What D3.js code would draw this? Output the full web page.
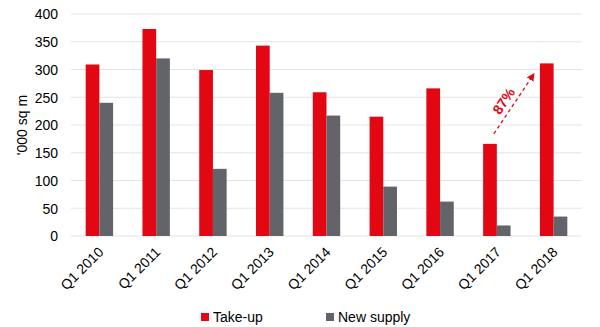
<!DOCTYPE html>
<html><head><meta charset="utf-8">
<script src="https://cdn.jsdelivr.net/npm/d3@7"></script>
<style>body{margin:0;background:#fff}svg{display:block}text{font-family:"Liberation Sans",Arial,sans-serif}</style>
</head><body>
<script>
const categories = ["Q1 2010","Q1 2011","Q1 2012","Q1 2013","Q1 2014","Q1 2015","Q1 2016","Q1 2017","Q1 2018"];
const takeUp = [309, 373, 299, 343, 259, 215, 266, 166, 311];
const newSupply = [240, 320, 121, 258, 217, 89, 62, 19, 35];
const seriesNames = ["Take-up","New supply"];
const yTicks = [0,50,100,150,200,250,300,350,400];
const annotation = {from:"Q1 2017", to:"Q1 2018", label:"87%"};

const W=600,H=327;
const colors=["#e30613","#636469"];
const svg=d3.select("body").append("svg").attr("width",W).attr("height",H);
const x=d3.scaleBand().domain(categories).range([71,582]).paddingInner(0).paddingOuter(0);
const y=d3.scaleLinear().domain([0,400]).range([236,14]);
const barW=13.7;

// gridlines
svg.append("g").selectAll("line").data(yTicks).join("line")
  .attr("x1",71).attr("x2",582).attr("y1",d=>y(d)).attr("y2",d=>y(d))
  .attr("stroke","#e3e3e3").attr("stroke-width",1);

// y axis labels
const yAxis=d3.axisLeft(y).tickValues(yTicks).tickSize(0).tickPadding(0);
const gy=svg.append("g").attr("transform","translate(58,0)").call(yAxis);
gy.select(".domain").remove();
gy.selectAll("text").attr("font-size",14).attr("fill","#000").attr("dy","0.35em");

svg.append("text").attr("transform","translate(27,125) rotate(-90)")
  .attr("text-anchor","middle").attr("font-size",14).attr("fill","#000").text("'000 sq m");

// bars
const data=[takeUp,newSupply];
data.forEach((vals,si)=>{
  svg.append("g").selectAll("rect").data(categories).join("rect")
    .attr("x",(c)=>x(c)+x.bandwidth()/2-barW+si*barW)
    .attr("y",(c,i)=>y(vals[i]))
    .attr("width",barW)
    .attr("height",(c,i)=>y(0)-y(vals[i]))
    .attr("fill",colors[si]);
});

// x labels
const gx=svg.append("g").attr("transform","translate(0,236)")
  .call(d3.axisBottom(x).tickSize(0).tickPadding(0));
gx.select(".domain").remove();
gx.selectAll("text").attr("font-size",14).attr("fill","#000")
  .attr("text-anchor","end").attr("dy",0)
  .attr("transform","translate(5,17) rotate(-45)");

// annotation arrow
const i1=categories.indexOf(annotation.from), i2=categories.indexOf(annotation.to);
const x1=x(annotation.from)+x.bandwidth()/2-3, y1=y(takeUp[i1])-10;
const x2=x(annotation.to)+x.bandwidth()/2-20, y2=y(takeUp[i2])+11;
svg.append("defs").append("marker").attr("id","ah").attr("viewBox","0 0 10 10")
  .attr("refX",8).attr("refY",5).attr("markerWidth",6).attr("markerHeight",6).attr("orient","auto")
  .append("path").attr("d","M0,0L10,5L0,10z").attr("fill",colors[0]);
svg.append("line").attr("x1",x1).attr("y1",y1).attr("x2",x2).attr("y2",y2)
  .attr("stroke",colors[0]).attr("stroke-width",1.3).attr("stroke-dasharray","3.5,3")
  .attr("marker-end","url(#ah)");
const ang=Math.atan2(y2-y1,x2-x1)*180/Math.PI;
svg.append("text").attr("transform",`translate(${(x1+x2)/2-10},${(y1+y2)/2-3}) rotate(${ang})`)
  .attr("text-anchor","middle").attr("dy","0.35em").attr("font-size",14).attr("font-weight","bold")
  .attr("fill",colors[0]).text(annotation.label);

// legend
const lg=svg.append("g");
const lx=[201,326];
seriesNames.forEach((n,i)=>{
  lg.append("rect").attr("x",lx[i]).attr("y",313).attr("width",8).attr("height",8).attr("fill",colors[i]);
  lg.append("text").attr("x",lx[i]+12).attr("y",317).attr("dy","0.35em").attr("font-size",14).attr("fill","#000").text(n);
});
</script>
</body></html>
